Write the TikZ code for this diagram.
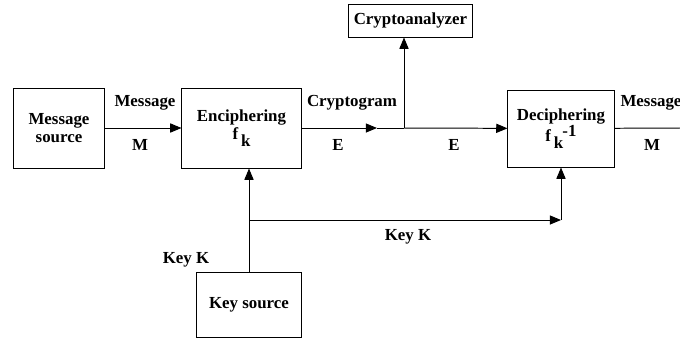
\documentclass[tikz,border=0pt]{standalone}
\usepackage{fontspec}
\setmainfont{Liberation Serif}
\usetikzlibrary{arrows.meta}

\tikzset{
  blk/.style={draw, line width=0.7pt, align=center, inner sep=2pt},
  lbl/.style={inner sep=0pt},
  wire/.style={line width=0.7pt},
  flow/.style={wire, -{Triangle[length=8pt,width=6.5pt]}},
}

\begin{document}
\begin{tikzpicture}[x=0.025cm, y=-0.025cm, font=\bfseries\fontsize{12}{13}\selectfont]
  \useasboundingbox (0,0) rectangle (680,338);

  % blocks
  \node[blk, minimum width=2.25cm, minimum height=2cm] (src) at (59,128) {Message\\source};
  \node[blk, minimum width=2.975cm, minimum height=2cm] (enc) at (241.5,128)
    {Enciphering\\f\,\raisebox{-0.9ex}{k}};
  \node[blk, minimum width=3.075cm, minimum height=0.825cm] (ca) at (410.5,20.5) {Cryptoanalyzer};
  \node[blk, minimum width=2.65cm, minimum height=1.925cm] (dec) at (561,128.5)
    {Deciphering\\f\,\raisebox{-0.9ex}{k}\kern-0.05em\raisebox{0.6ex}{-1}};
  \node[blk, minimum width=2.6cm, minimum height=1.625cm] (ks) at (249,304.5) {Key source};

  % junctions
  \coordinate (tip) at (377,128);
  \coordinate (tap) at (404,128);
  \coordinate (out) at (680,128);
  \coordinate (kj) at (249,220);
  \coordinate (kc) at (dec.south |- kj);

  % message path
  \draw[flow] (src) -- (enc);
  \draw[flow] (enc) -- (tip);
  \draw[wire] (tip) -- (tap);
  \draw[flow] (tap) -- (dec);
  \draw[flow] (tap) -- (tap |- ca.south);
  \draw[wire] (dec) -- (out);

  % key path
  \draw[flow] (ks.north) -- (ks.north |- enc.south);
  \draw[flow] (kj) -- (kc);
  \draw[flow] (kc) -- (dec.south);

  % labels
  \node[lbl] (lmsg) at (145,103) {Message};
  \node[lbl] (lm) at (140,145) {M};
  \node[lbl] (lcg) at (352,103) {Cryptogram};
  \node[lbl] (le1) at (338,145) {E};
  \node[lbl] (le2) at (454,145) {E};
  \node[lbl] (lmsg2) at (651,103) {Message};
  \node[lbl] (lm2) at (652,145) {M};
  \node[lbl] (lkey) at (408,237) {Key K};
  \node[lbl] (lkey2) at (186,260) {Key K};
\end{tikzpicture}
\end{document}
